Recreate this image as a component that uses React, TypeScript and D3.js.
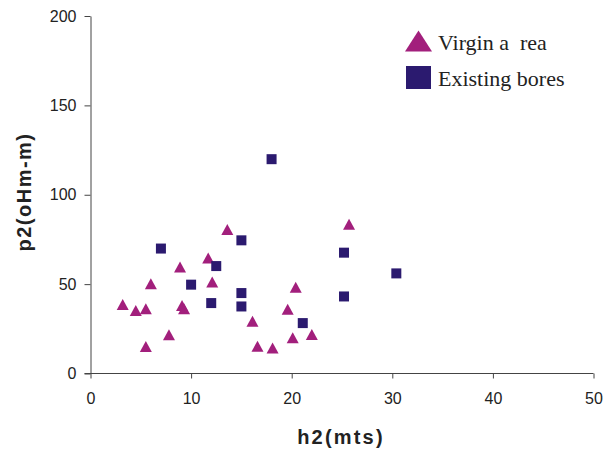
import React, { useEffect, useRef } from 'react';
import * as d3 from 'd3';

// Virgin area (triangles)
const virginH = [3.2, 4.5, 5.5, 5.5, 6.0, 7.8, 8.9, 9.1, 9.3, 11.7, 12.1, 13.6, 16.1, 16.6, 18.1, 19.6, 20.4, 20.1, 22.0, 25.7];
const virginP = [38.6, 35.3, 36.2, 15.1, 50.2, 21.7, 59.6, 38.1, 36.2, 64.6, 51.2, 80.5, 29.3, 15.3, 14.2, 36.0, 48.3, 20.0, 21.8, 83.5];
// Existing bores (squares)
const boresH = [7.0, 10.0, 12.0, 12.5, 15.0, 15.0, 15.0, 18.0, 21.1, 25.2, 25.2, 30.4];
const boresP = [69.9, 49.7, 39.4, 60.1, 74.5, 45.0, 37.5, 119.9, 28.2, 67.6, 43.1, 56.0];

const xTicks = [0, 10, 20, 30, 40, 50];
const yTicks = [0, 50, 100, 150, 200];

const TRI = '#A21F7C';
const SQ = '#2B1A6F';

const App = () => {
  const ref = useRef(null);

  useEffect(() => {
    const root = d3.select(ref.current);
    root.selectAll('*').remove();

    const width = 608;
    const height = 451;
    const x = d3.scaleLinear().domain([0, 50]).range([90.5, 593.5]);
    const y = d3.scaleLinear().domain([0, 200]).range([373.5, 16]);

    const svg = root.append('svg')
      .attr('width', width)
      .attr('height', height)
      .style('display', 'block');

    const axisCol = '#444';
    const sans = 'Liberation Sans, Arial, sans-serif';

    const gx = svg.append('g')
      .attr('transform', `translate(0,${y(0)})`)
      .call(d3.axisBottom(x).tickValues(xTicks).tickSize(5).tickPadding(14).tickSizeOuter(0));
    gx.select('.domain').attr('stroke', axisCol).attr('d', `M${x(0) - 6},0H${x(50)}`);
    gx.selectAll('line').attr('stroke', axisCol);
    gx.selectAll('text').attr('font-family', sans).attr('font-size', 16).attr('fill', '#222');

    const gy = svg.append('g')
      .attr('transform', `translate(${x(0)},0)`)
      .call(d3.axisLeft(y).tickValues(yTicks).tickSize(6).tickPadding(8).tickSizeOuter(0));
    gy.select('.domain').attr('stroke', axisCol);
    gy.selectAll('line').attr('stroke', axisCol);
    gy.selectAll('text').attr('font-family', sans).attr('font-size', 16).attr('fill', '#222');

    svg.append('text')
      .attr('x', 341).attr('y', 444)
      .attr('text-anchor', 'middle')
      .attr('font-family', sans)
      .attr('font-weight', 'bold').attr('font-size', 20).attr('letter-spacing', 2.2).attr('fill', '#222')
      .text('h2(mts)');

    svg.append('text')
      .attr('transform', `translate(31,192) rotate(-90)`)
      .attr('text-anchor', 'middle')
      .attr('font-family', sans)
      .attr('font-weight', 'bold').attr('font-size', 20).attr('letter-spacing', 1.5).attr('fill', '#222')
      .text('p2(oHm-m)');

    const tri = (cx, cy, w, h) => `M${cx},${cy - h / 2}L${cx + w / 2},${cy + h / 2}L${cx - w / 2},${cy + h / 2}Z`;

    svg.append('g').selectAll('path')
      .data(virginH.map((h, i) => [h, virginP[i]]))
      .join('path')
      .attr('d', d => tri(x(d[0]), y(d[1]), 12, 11))
      .attr('fill', TRI);

    svg.append('g').selectAll('rect')
      .data(boresH.map((h, i) => [h, boresP[i]]))
      .join('rect')
      .attr('x', d => x(d[0]) - 5)
      .attr('y', d => y(d[1]) - 5)
      .attr('width', 10).attr('height', 10)
      .attr('fill', SQ);

    // legend
    const serif = 'Liberation Serif, Times New Roman, serif';
    const lg = svg.append('g');
    lg.append('path').attr('d', tri(418.5, 41, 27, 21)).attr('fill', TRI);
    lg.append('rect').attr('x', 406).attr('y', 66).attr('width', 25).attr('height', 23).attr('fill', SQ);
    lg.append('text').attr('x', 438).attr('y', 50)
      .attr('font-family', serif).attr('font-size', 22).attr('fill', '#222')
      .text('Virgin a\u00a0 rea');
    lg.append('text').attr('x', 438).attr('y', 86)
      .attr('font-family', serif).attr('font-size', 22).attr('fill', '#222')
      .text('Existing bores');
  }, []);

  return <div ref={ref} style={{ position: 'absolute', left: 0, top: 0 }}></div>;
};

export default App;
